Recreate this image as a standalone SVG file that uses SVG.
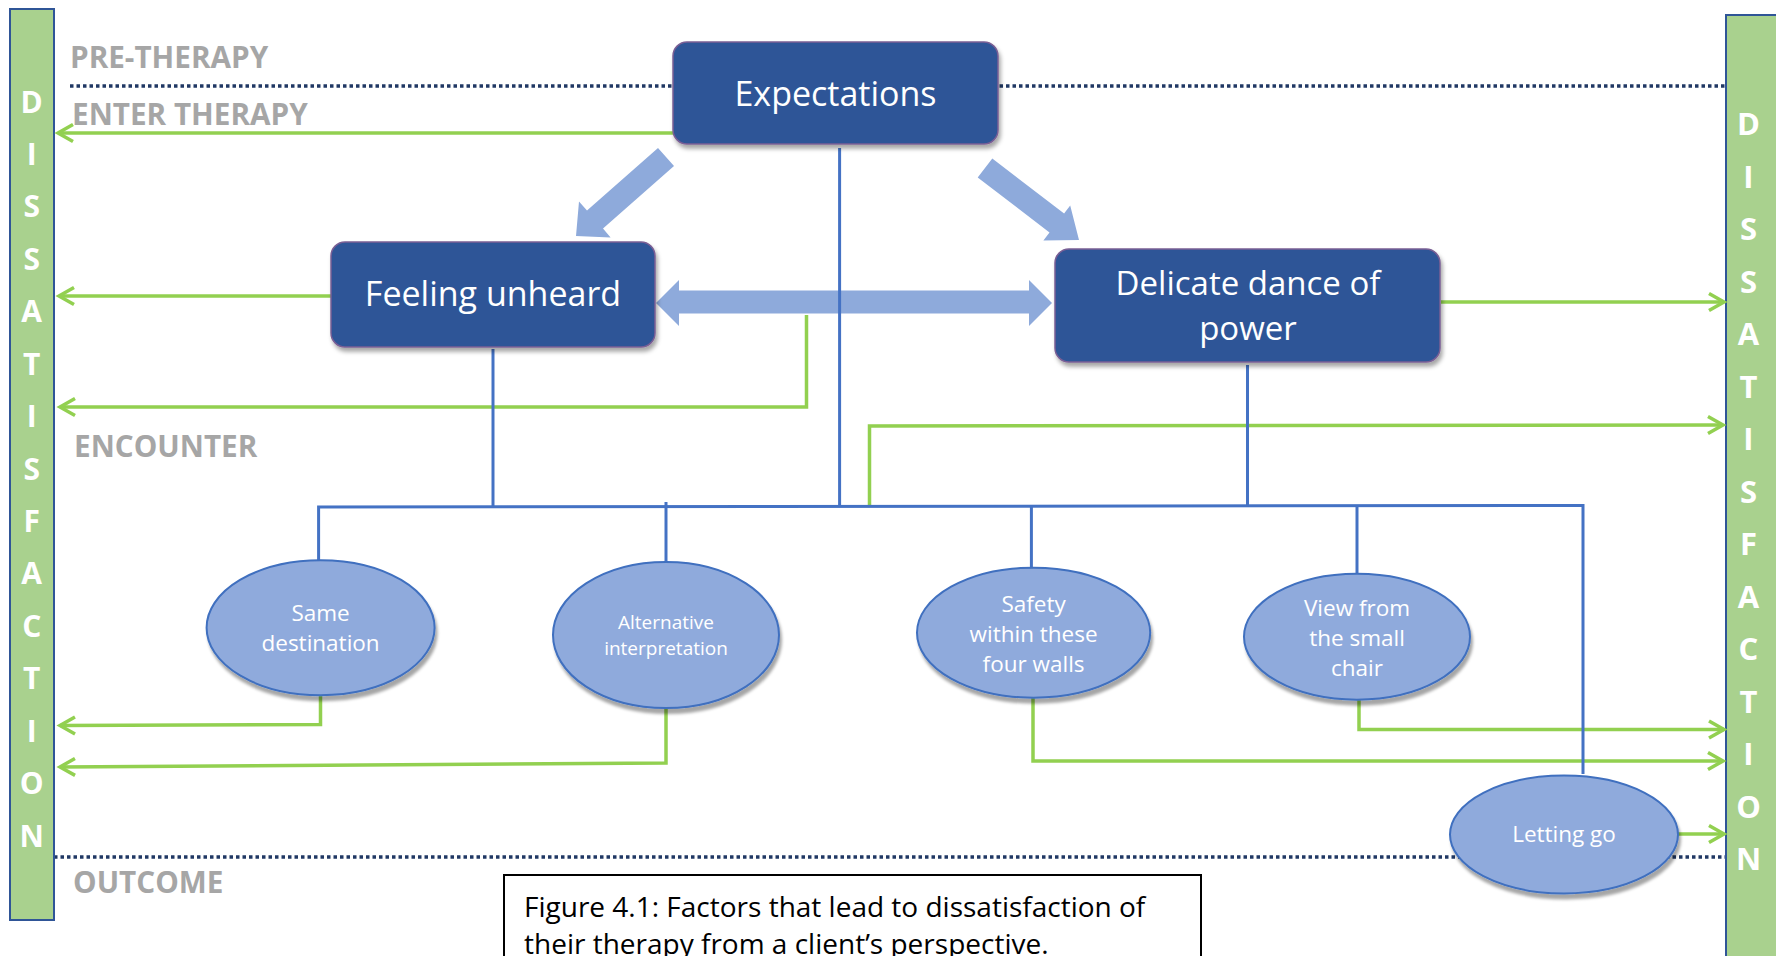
<svg xmlns="http://www.w3.org/2000/svg" width="1776" height="956" viewBox="0 0 1776 956">
<style>
.bar{fill:#a9d18e;stroke:#2f5597;stroke-width:2}
.vl{font-family:"Open Sans","DejaVu Sans",sans-serif;font-weight:bold;fill:#ffffff;text-anchor:middle}
.sec{font-family:"Open Sans","DejaVu Sans",sans-serif;font-weight:bold;font-size:29.7px;fill:#a6a6a6}
.dot{stroke:#203864;stroke-width:3.5;stroke-dasharray:3.5 3;fill:none}
.box{fill:#2f5597;stroke:#7a5f95;stroke-width:1.5;filter:url(#sh)}
.bt{font-family:"Open Sans","DejaVu Sans",sans-serif;font-size:34px;fill:#ffffff;text-anchor:middle}
.bt2{font-family:"Open Sans","DejaVu Sans",sans-serif;font-size:33px;fill:#ffffff;text-anchor:middle}
.ell{fill:#8faadc;stroke:#3f6fbf;stroke-width:2;filter:url(#sh2)}
.et{font-family:"Open Sans","DejaVu Sans",sans-serif;font-size:22.5px;fill:#ffffff;text-anchor:middle}
.et2{font-family:"Open Sans","DejaVu Sans",sans-serif;font-size:19px;fill:#ffffff;text-anchor:middle}
.blk{fill:#8eaadb}
.bl{stroke:#4472c4;stroke-width:3;fill:none}
.gr{stroke:#92d050;stroke-width:3.5;fill:none;marker-end:url(#ga)}
.cap{font-family:"Open Sans","DejaVu Sans",sans-serif;font-size:28px;fill:#000000}
</style>
<defs>
<filter id="sh" x="-10%" y="-10%" width="120%" height="130%">
<feDropShadow dx="2" dy="4" stdDeviation="2" flood-color="#000" flood-opacity="0.35"/>
</filter>
<filter id="sh2" x="-10%" y="-10%" width="120%" height="130%">
<feDropShadow dx="2" dy="5" stdDeviation="1.5" flood-color="#000" flood-opacity="0.35"/>
</filter>
<marker id="ga" markerUnits="userSpaceOnUse" orient="auto" markerWidth="20" markerHeight="20" refX="0" refY="0" viewBox="-16 -10 18 20" overflow="visible">
<path d="M-15,-8.5 L0,0 L-15,8.5" stroke="#92d050" stroke-width="3.5" fill="none"/>
</marker>
</defs>
<rect width="1776" height="956" fill="#ffffff"/>

<g id="sections">
<text class="sec" x="70" y="67.5">PRE-THERAPY</text>
<text class="sec" x="72" y="125">ENTER THERAPY</text>
<text class="sec" x="74" y="457">ENCOUNTER</text>
<text class="sec" x="73" y="893">OUTCOME</text>
<path class="dot" d="M70,86 H1726"/>
<path class="dot" d="M54,857 H1726"/>
</g>

<g id="left-bar">
<rect class="bar" x="10" y="9" width="44" height="911"/>
<g class="vl" font-size="30">
<text x="31.7" y="112.5">D</text>
<text x="31.7" y="164.9">I</text>
<text x="31.7" y="217.4">S</text>
<text x="31.7" y="269.8">S</text>
<text x="31.7" y="322.2">A</text>
<text x="31.7" y="374.7">T</text>
<text x="31.7" y="427.1">I</text>
<text x="31.7" y="479.5">S</text>
<text x="31.7" y="531.9">F</text>
<text x="31.7" y="584.4">A</text>
<text x="31.7" y="636.8">C</text>
<text x="31.7" y="689.2">T</text>
<text x="31.7" y="741.7">I</text>
<text x="31.7" y="794.1">O</text>
<text x="31.7" y="846.5">N</text>
</g>
</g>

<g id="right-bar">
<rect class="bar" x="1726" y="15" width="60" height="960"/>
<g class="vl" font-size="31">
<text x="1748.5" y="135">D</text>
<text x="1748.5" y="187.5">I</text>
<text x="1748.5" y="240">S</text>
<text x="1748.5" y="292.5">S</text>
<text x="1748.5" y="345">A</text>
<text x="1748.5" y="397.5">T</text>
<text x="1748.5" y="450">I</text>
<text x="1748.5" y="502.5">S</text>
<text x="1748.5" y="555">F</text>
<text x="1748.5" y="607.5">A</text>
<text x="1748.5" y="660">C</text>
<text x="1748.5" y="712.5">T</text>
<text x="1748.5" y="765">I</text>
<text x="1748.5" y="817.5">O</text>
<text x="1748.5" y="870">N</text>
</g>
</g>

<g id="block-arrows">
<polygon class="blk" points="658,148 674,166 603,228.5 610.6,237.5 576,236 579,201.5 587,210.5"/>
<polygon class="blk" points="992.3,158.5 977.7,177.5 1049.5,232.5 1043.4,240.5 1079,240 1070.2,205.5 1064.1,213.5"/>
<polygon class="blk" points="656,303 679,280 679,290.5 1029,290.5 1029,280 1052,303 1029,326 1029,313.5 679,313.5 679,326"/>
</g>

<g id="connectors">
<path class="gr" d="M673,133 L58,133"/>
<path class="gr" d="M331,296 L59,296"/>
<path class="gr" d="M806.5,315 L806.5,407 L60,407"/>
<path class="gr" d="M869.5,505 L869.5,426 L1723,425"/>
<path class="gr" d="M320.5,695 L320.5,724.5 L60,725.5"/>
<path class="gr" d="M666,708 L666,763 L60,767"/>
<path class="gr" d="M1033,697 L1033,761 L1723,761"/>
<path class="gr" d="M1359,700 L1359,729.5 L1724,729.5"/>
<path class="gr" d="M1678,834 L1724,834"/>
<path class="gr" d="M1441,302 L1724,302"/>
<path class="bl" d="M839.6,148 V506"/>
<path class="bl" d="M493,349 V506"/>
<path class="bl" d="M1247.5,365 V506"/>
<path class="bl" d="M318.6,560 L318.6,507 L1583,505.5 L1583,774"/>
<path class="bl" d="M666,502 V562"/>
<path class="bl" d="M1031.4,506 V567"/>
<path class="bl" d="M1357,506 V574"/>
</g>

<g id="expectations">
<rect class="box" x="673" y="42" width="325" height="102" rx="14"/>
<text class="bt" x="835.5" y="106">Expectations</text>
</g>
<g id="feeling-unheard">
<rect class="box" x="331" y="242" width="324" height="105" rx="14"/>
<text class="bt" x="493" y="306">Feeling unheard</text>
</g>
<g id="delicate-dance">
<rect class="box" x="1055" y="249" width="385" height="113" rx="14"/>
<text class="bt2" x="1248" y="295">Delicate dance of</text>
<text class="bt2" x="1248" y="340">power</text>
</g>

<g id="same-destination">
<ellipse class="ell" cx="320.6" cy="627.7" rx="114" ry="67.5"/>
<text class="et" x="320.6" y="621">Same</text>
<text class="et" x="320.6" y="651">destination</text>
</g>
<g id="alternative-interpretation">
<ellipse class="ell" cx="666" cy="635" rx="113" ry="73"/>
<text class="et2" x="666" y="628.5">Alternative</text>
<text class="et2" x="666" y="654.5">interpretation</text>
</g>
<g id="safety">
<ellipse class="ell" cx="1033.6" cy="632.7" rx="116.6" ry="65"/>
<text class="et" x="1033.6" y="611.5">Safety</text>
<text class="et" x="1033.6" y="641.5">within these</text>
<text class="et" x="1033.6" y="672">four walls</text>
</g>
<g id="view-small-chair">
<ellipse class="ell" cx="1357" cy="636.7" rx="113" ry="63"/>
<text class="et" x="1357" y="615.5">View from</text>
<text class="et" x="1357" y="645.5">the small</text>
<text class="et" x="1357" y="675.5">chair</text>
</g>
<g id="letting-go">
<ellipse class="ell" cx="1564" cy="834.5" rx="114" ry="59"/>
<text class="et" x="1564" y="842">Letting go</text>
</g>

<g id="caption">
<rect x="504" y="875" width="697" height="110" fill="#ffffff" stroke="#000000" stroke-width="2"/>
<text class="cap" x="524" y="917">Figure 4.1: Factors that lead to dissatisfaction of</text>
<text class="cap" x="524" y="954">their therapy from a client’s perspective.</text>
</g>
</svg>
